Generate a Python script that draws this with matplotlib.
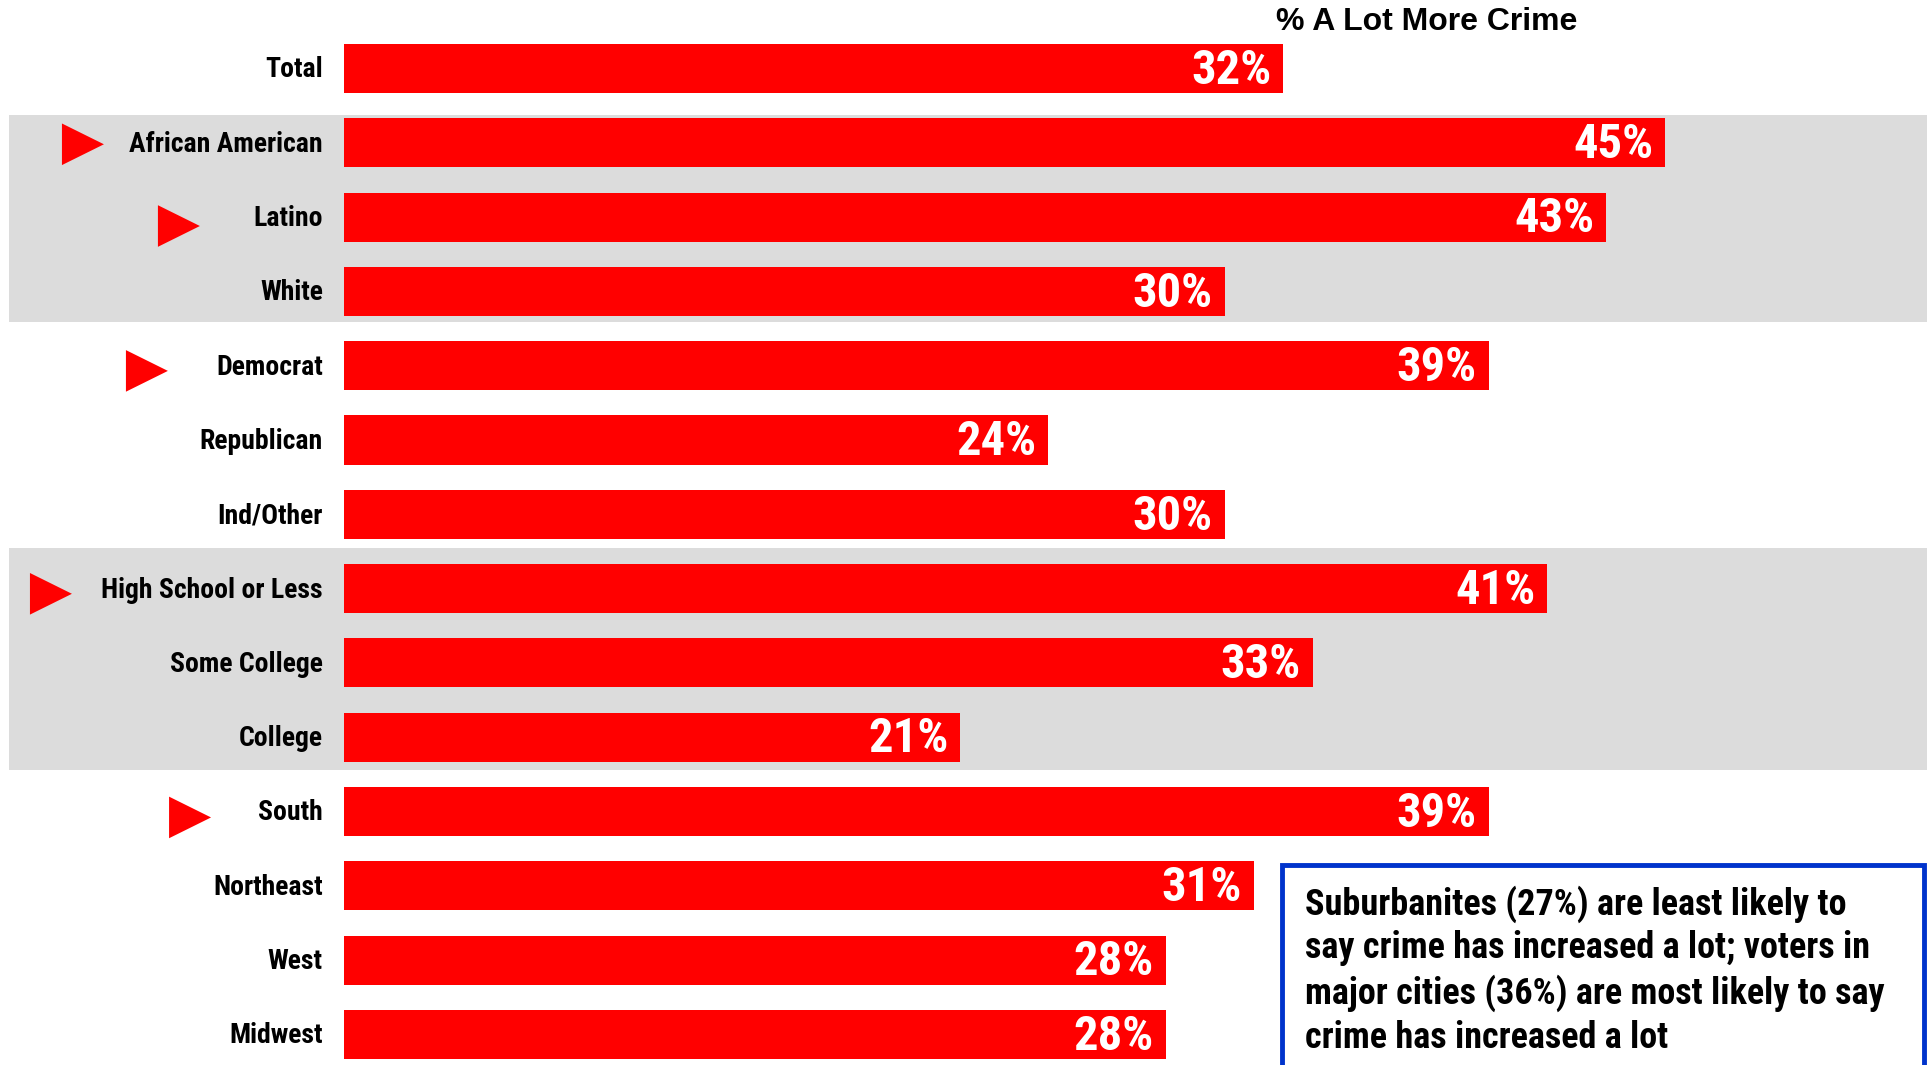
import matplotlib.pyplot as plt
from matplotlib.patches import Polygon, Rectangle

# dados
categorias = ['Total', 'African American', 'Latino', 'White', 'Democrat', 'Republican',
              'Ind/Other', 'High School or Less', 'Some College', 'College',
              'South', 'Northeast', 'West', 'Midwest']
valores = [32, 45, 43, 30, 39, 24, 30, 41, 33, 21, 39, 31, 28, 28]
setas = ['African American', 'Latino', 'Democrat', 'High School or Less', 'South']
grupos_cinza = [('African American', 'White'), ('High School or Less', 'College')]
titulo = '% A Lot More Crime'
nota = ['Suburbanites (27%) are least likely to',
        'say crime has increased a lot; voters in',
        'major cities (36%) are most likely to say',
        'crime has increased a lot']

narrow = ['Roboto Condensed', 'PT Sans Narrow', 'Liberation Sans', 'DejaVu Sans']
vermelho = '#FF0000'

W, H = 1933, 1065
fig = plt.figure(figsize=(W / 100, H / 100), dpi=100)
ax = fig.add_axes([0, 0, 1, 1])
px_x = 29.35   # pixels por ponto percentual
px_y = 74.3    # pixels por linha
x0 = 344
y0 = 68.5
ax.set_xlim(-x0 / px_x, (W - x0) / px_x)
ax.set_ylim((H - y0) / px_y, -y0 / px_y)
ax.axis('off')

pos = list(range(len(categorias)))

# faixas cinza
margens = [(0.37, 0.41), (0.55, 0.44)]
for (a, b), (m1, m2) in zip(grupos_cinza, margens):
    i1, i2 = categorias.index(a), categorias.index(b)
    ax.add_patch(Rectangle((-11.43, i1 - m1), 65.35, (i2 - i1) + m1 + m2,
                           color='#DCDCDC', zorder=0, lw=0))

ax.barh(pos, valores, height=0.66, color=vermelho, zorder=2)

for i, (c, v) in enumerate(zip(categorias, valores)):
    ax.text(-0.72, i + 0.02, c, ha='right', va='center', fontsize=20,
            fontweight='bold', family=narrow, zorder=3)
    ax.text(v - 0.4, i + 0.03, f'{v}%', ha='right', va='center', fontsize=35,
            fontweight='bold', color='white', family=narrow, zorder=3)

# setas vermelhas
seta_x = {'African American': -9.61, 'Latino': -6.34, 'Democrat': -7.43,
          'High School or Less': -10.70, 'South': -5.96}
seta_dy = {'African American': 0.02, 'Latino': 0.12, 'Democrat': 0.07,
           'High School or Less': 0.07, 'South': 0.08}
for s in setas:
    i = categorias.index(s)
    xl = seta_x[s]
    yc = i + seta_dy[s]
    tri = Polygon([(xl, yc - 0.28), (xl, yc + 0.28), (xl + 1.43, yc)],
                  closed=True, color=vermelho, zorder=3, lw=0)
    ax.add_patch(tri)

fig.text(1427 / W, 1 - 22 / H, titulo, ha='center', va='center', fontsize=23,
         fontweight='bold', family=['Liberation Sans', 'DejaVu Sans'])

# caixa de texto
fig.patches.append(Rectangle((1282 / W, -0.02), (1924 - 1282) / W, 0.02 + 1 - 865 / H,
                             transform=fig.transFigure, fill=False,
                             edgecolor='#0033CC', lw=3.5))
for k, linha in enumerate(nota):
    fig.text(1305 / W, 1 - (904 + 44.5 * k) / H, linha, ha='left', va='center',
             fontsize=26, fontweight='bold', family=narrow)

fig.savefig('out.png', dpi=100)
